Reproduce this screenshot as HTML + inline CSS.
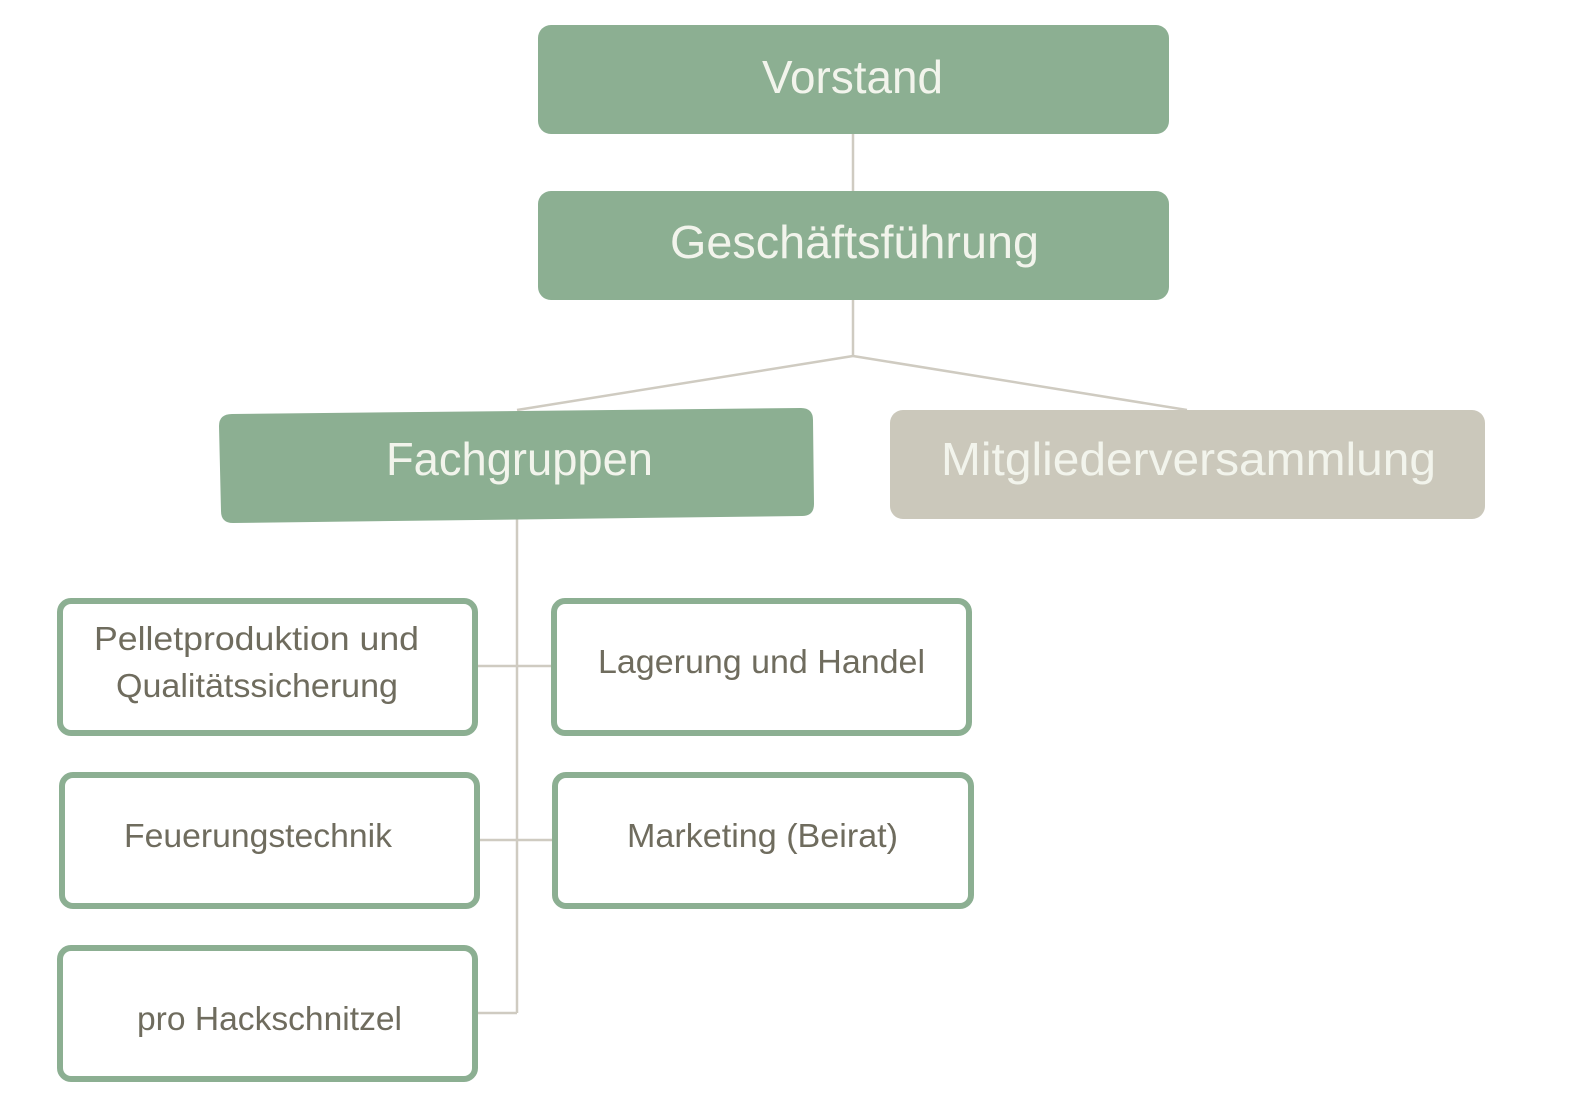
<!DOCTYPE html>
<html><head><meta charset="utf-8"><style>
html,body{margin:0;padding:0;background:#fff;overflow:hidden;width:1584px;height:1119px;}
svg{display:block;position:absolute;left:0;top:0;}
text{font-family:"Liberation Sans Narrow","Liberation Sans",sans-serif;}
.w{fill:#f2f4ec;font-size:46px;}
.d{fill:#6f6c5e;font-size:33px;}
</style></head><body>
<svg width="1584" height="1119" viewBox="0 0 1584 1119" xmlns="http://www.w3.org/2000/svg">
<g stroke="#cfcbc1" stroke-width="2.5" fill="none">
<line x1="853" y1="134" x2="853" y2="191"/>
<line x1="853" y1="300" x2="853" y2="356"/>
<line x1="853" y1="356" x2="517" y2="410"/>
<line x1="853" y1="356" x2="1187" y2="410"/>
<line x1="517" y1="518" x2="517" y2="1013"/>
<line x1="478" y1="666" x2="551" y2="666"/>
<line x1="480" y1="840" x2="552" y2="840"/>
<line x1="478" y1="1013" x2="517" y2="1013"/>
</g>
<rect x="538" y="25" width="631" height="109" rx="13" fill="#8caf92"/>
<rect x="538" y="191" width="631" height="109" rx="13" fill="#8caf92"/>
<path d="M232,414 L801,408 Q813,408 813,420 L814,504 Q814,516 802,516 L233,523 Q221,523 221,511 L219,426 Q219,414 232,414 Z" fill="#8caf92"/>
<rect x="890" y="410" width="595" height="109" rx="13" fill="#cbc8bb"/>
<g fill="#fff" stroke="#8caf92" stroke-width="6">
<rect x="60" y="601" width="415" height="132" rx="11"/>
<rect x="554" y="601" width="415" height="132" rx="11"/>
<rect x="62" y="775" width="415" height="131" rx="11"/>
<rect x="555" y="775" width="416" height="131" rx="11"/>
<rect x="60" y="948" width="415" height="131" rx="11"/>
</g>
<text class="w" x="762" y="93" textLength="181" lengthAdjust="spacingAndGlyphs">Vorstand</text>
<text class="w" x="670" y="258" textLength="369" lengthAdjust="spacingAndGlyphs">Geschäftsführung</text>
<text class="w" x="386" y="475" textLength="267" lengthAdjust="spacingAndGlyphs">Fachgruppen</text>
<text class="w" x="941" y="475" textLength="495" lengthAdjust="spacingAndGlyphs">Mitgliederversammlung</text>
<text class="d" x="94" y="650" textLength="325" lengthAdjust="spacingAndGlyphs">Pelletproduktion und</text>
<text class="d" x="116" y="697" textLength="282" lengthAdjust="spacingAndGlyphs">Qualitätssicherung</text>
<text class="d" x="598" y="673" textLength="327" lengthAdjust="spacingAndGlyphs">Lagerung und Handel</text>
<text class="d" x="124" y="847" textLength="268" lengthAdjust="spacingAndGlyphs">Feuerungstechnik</text>
<text class="d" x="627" y="847" textLength="271" lengthAdjust="spacingAndGlyphs">Marketing (Beirat)</text>
<text class="d" x="137" y="1030" textLength="265" lengthAdjust="spacingAndGlyphs">pro Hackschnitzel</text>
</svg>
</body></html>
